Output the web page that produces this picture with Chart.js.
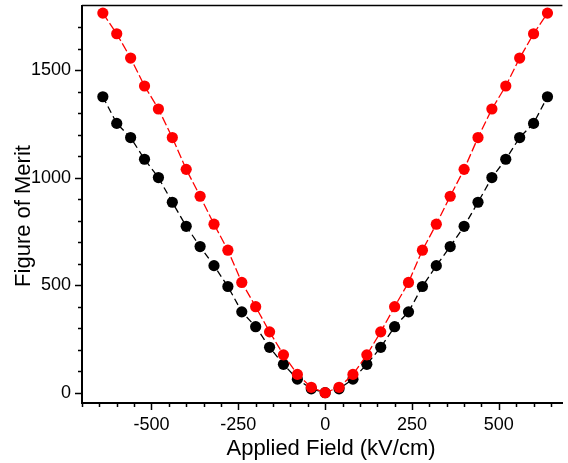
<!DOCTYPE html>
<html>
<head>
<meta charset="utf-8">
<title>Figure of Merit vs Applied Field</title>
<script src="https://cdn.jsdelivr.net/npm/chart.js@4/dist/chart.umd.min.js"></script>
<style>
  html, body { margin: 0; padding: 0; background: #fff; }
  canvas { display: block; }
</style>
</head>
<body>
<canvas id="fom" width="568" height="463"></canvas>
<script>
// Applied field (kV/cm)
const appliedField = [-640, -600, -560, -520, -480, -440, -400, -360, -320, -280, -240, -200, -160, -120, -80, -40,
                      0, 40, 80, 120, 160, 200, 240, 280, 320, 360, 400, 440, 480, 520, 560, 600, 640];
// Figure of merit, black series
const fomBlack = [1377, 1253, 1187, 1086, 1001, 886, 774, 680, 591, 494, 376, 307, 211, 132, 63, 18,
                  0, 18, 63, 132, 211, 307, 376, 494, 591, 680, 774, 886, 1001, 1086, 1187, 1253, 1377];
// Figure of merit, red series
const fomRed = [1766, 1670, 1557, 1427, 1320, 1187, 1039, 914, 784, 663, 513, 400, 283, 176, 85, 25,
                0, 25, 85, 176, 283, 400, 513, 663, 784, 914, 1039, 1187, 1320, 1427, 1557, 1670, 1766];
// Labelled ticks
const xTickValues = [-500, -250, 0, 250, 500];
const yTickValues = [0, 500, 1000, 1500];
// Unlabelled minor ticks
const xMinorTicks = [-700, -650, -600, -550, -450, -400, -350, -300, -200, -150, -100, -50,
                     50, 100, 150, 200, 300, 350, 400, 450, 550, 600, 650];
const yMinorTicks = [100, 200, 300, 400, 600, 700, 800, 900, 1100, 1200, 1300, 1400, 1600, 1700];

const xTitle = 'Applied Field (kV/cm)';
const yTitle = 'Figure of Merit';

const FONT = '"Liberation Sans", Arial, sans-serif';

const toPoints = ys => appliedField.map((x, i) => ({ x: x, y: ys[i] }));

// Scales get no extra room for overhanging tick labels
const noLabelPadding = s => {
  s.paddingTop = 0; s.paddingBottom = 0; s.paddingLeft = 0; s.paddingRight = 0;
};

// Tick marks, top frame line and axis titles
const axisDecor = {
  id: 'axisDecor',
  afterDraw(chart) {
    const { ctx, chartArea: a, scales: { x, y } } = chart;
    ctx.save();
    ctx.strokeStyle = '#000';
    ctx.lineCap = 'butt';

    // top frame line
    ctx.lineWidth = 1.5;
    ctx.beginPath();
    ctx.moveTo(a.left, a.top);
    ctx.lineTo(a.right, a.top);
    ctx.stroke();

    ctx.lineWidth = 1.5;
    ctx.beginPath();
    xTickValues.forEach(v => {
      const px = Math.round(x.getPixelForValue(v)) + 0.5;
      ctx.moveTo(px, a.bottom); ctx.lineTo(px, a.bottom + 7);
    });
    xMinorTicks.forEach(v => {
      const px = Math.round(x.getPixelForValue(v)) + 0.5;
      ctx.moveTo(px, a.bottom); ctx.lineTo(px, a.bottom + 4);
    });
    yTickValues.forEach(v => {
      const py = Math.round(y.getPixelForValue(v)) + 0.5;
      ctx.moveTo(a.left, py); ctx.lineTo(a.left - 7, py);
    });
    yMinorTicks.forEach(v => {
      const py = Math.round(y.getPixelForValue(v)) + 0.5;
      ctx.moveTo(a.left, py); ctx.lineTo(a.left - 4, py);
    });
    ctx.stroke();

    // axis titles
    ctx.fillStyle = '#000';
    ctx.font = '22px ' + FONT;
    ctx.textAlign = 'center';
    ctx.textBaseline = 'alphabetic';
    ctx.fillText(xTitle, 331, 455);

    ctx.translate(30, 216);
    ctx.rotate(-Math.PI / 2);
    ctx.fillText(yTitle, 0, 0);
    ctx.restore();
  }
};

new Chart(document.getElementById('fom'), {
  type: 'scatter',
  data: {
    datasets: [
      {
        label: 'red',
        data: toPoints(fomRed),
        showLine: true,
        borderColor: '#ff0000',
        backgroundColor: '#ff0000',
        borderWidth: 1.3,
        borderDash: [9, 3],
        pointRadius: 5.6,
        pointBorderWidth: 0,
        pointBackgroundColor: '#ff0000',
        tension: 0
      },
      {
        label: 'black',
        data: toPoints(fomBlack),
        showLine: true,
        borderColor: '#000000',
        backgroundColor: '#000000',
        borderWidth: 1.3,
        borderDash: [7, 4],
        pointRadius: 5.6,
        pointBorderWidth: 0,
        pointBackgroundColor: '#000000',
        tension: 0
      }
    ]
  },
  options: {
    responsive: false,
    animation: false,
    devicePixelRatio: 1,
    clip: false,
    layout: { padding: { top: 5, right: 0, left: 0, bottom: 0 } },
    plugins: {
      legend: { display: false },
      tooltip: { enabled: false }
    },
    scales: {
      x: {
        type: 'linear',
        min: -700,
        max: 683,
        afterBuildTicks: s => { s.ticks = xTickValues.map(v => ({ value: v })); },
        afterFit: s => { s.height = 60; noLabelPadding(s); },
        grid: { display: false, drawTicks: false },
        border: { display: true, color: '#000', width: 2 },
        ticks: {
          color: '#000',
          font: { family: FONT, size: 18 },
          padding: 11,
          maxRotation: 0,
          callback: v => String(v)
        }
      },
      y: {
        type: 'linear',
        min: -48,
        max: 1801,
        afterBuildTicks: s => { s.ticks = yTickValues.map(v => ({ value: v })); },
        afterFit: s => { s.width = 82; noLabelPadding(s); },
        grid: { display: false, drawTicks: false },
        border: { display: true, color: '#000', width: 2 },
        ticks: {
          color: '#000',
          font: { family: FONT, size: 18 },
          padding: 11,
          callback: v => String(v)
        }
      }
    }
  },
  plugins: [axisDecor]
});
</script>
</body>
</html>
